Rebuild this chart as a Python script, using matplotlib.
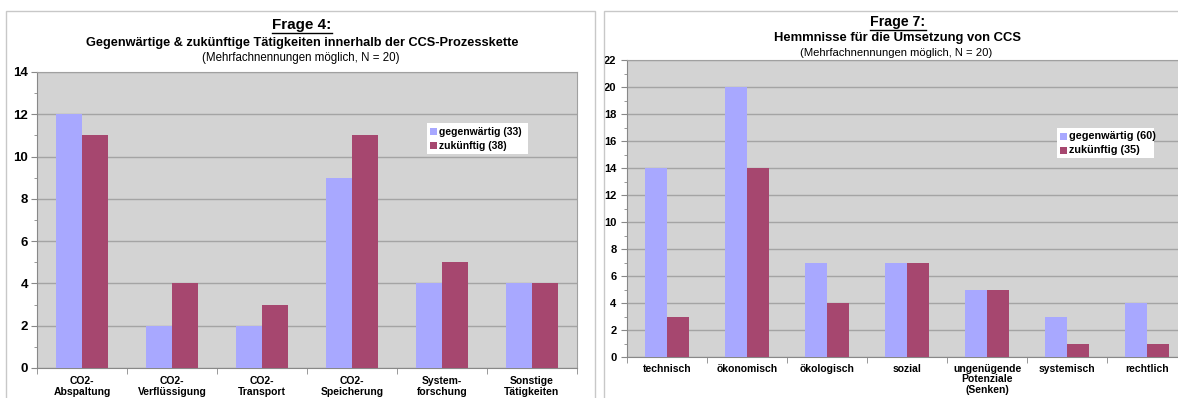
import matplotlib
matplotlib.use("Agg")
import matplotlib.pyplot as plt
from matplotlib.patches import Rectangle
from matplotlib.ticker import MultipleLocator
import numpy as np

plt.rcParams['font.family'] = ['Liberation Sans', 'DejaVu Sans']

# Frage 4 data
cats4 = ["CO2-\nAbspaltung", "CO2-\nVerflüssigung", "CO2-\nTransport",
         "CO2-\nSpeicherung", "System-\nforschung", "Sonstige\nTätigkeiten"]
now4 = [12, 2, 2, 9, 4, 4]
future4 = [11, 4, 3, 11, 5, 4]
legend4 = ["gegenwärtig (33)", "zukünftig (38)"]

# Frage 7 data
cats7 = ["technisch", "ökonomisch", "ökologisch", "sozial",
         "ungenügende\nPotenziale\n(Senken)", "systemisch", "rechtlich"]
now7 = [14, 20, 7, 7, 5, 3, 4]
future7 = [3, 14, 4, 7, 5, 1, 1]
legend7 = ["gegenwärtig (60)", "zukünftig (35)"]

C_NOW = "#a8a8ff"
C_FUT = "#a6476f"
BG = "#d3d3d3"
GRID = "#a4a4a4"

W, H = 1178, 398
fig = plt.figure(figsize=(W / 100, H / 100), dpi=100)
fig.patch.set_facecolor("white")


def px(x0, y0, x1, y1):
    return [x0 / W, 1 - y1 / H, (x1 - x0) / W, (y1 - y0) / H]


# panel frames
for (x0, y0, x1, y1) in [(6, 11, 595, 420), (604, 11, 1200, 420)]:
    fig.patches.append(Rectangle((x0 / W, 1 - y1 / H), (x1 - x0) / W, (y1 - y0) / H,
                                 transform=fig.transFigure, fill=False,
                                 edgecolor="#c8c8c8", lw=1.0, zorder=0))


def draw(rect, cats, a, b, ymax, leg_labels, leg_rect, bw, tick_fs, tick_pad,
         lab_fs, lab_pad, lab_ls, leg_fs):
    ax = fig.add_axes(px(*rect))
    ax.set_facecolor(BG)
    n = len(cats)
    x = np.arange(n)
    ax.bar(x - bw / 2, a, bw, color=C_NOW, zorder=3)
    ax.bar(x + bw / 2, b, bw, color=C_FUT, zorder=3)
    ax.set_xlim(-0.5, n - 0.5)
    ax.set_ylim(0, ymax)
    ax.yaxis.set_major_locator(MultipleLocator(2))
    ax.yaxis.set_minor_locator(MultipleLocator(1))
    ax.grid(axis="y", which="major", color=GRID, lw=1.0, zorder=1)
    ax.set_xticks(x)
    ax.set_xticklabels(cats, fontsize=lab_fs, fontweight="bold", linespacing=lab_ls)
    ax.set_xticks(np.arange(n + 1) - 0.5, minor=True)
    ax.tick_params(axis="x", which="major", length=0, pad=lab_pad)
    ax.tick_params(axis="x", which="minor", length=4, color="#888888")
    ax.tick_params(axis="y", which="major", length=4, color="#888888",
                   labelsize=tick_fs, pad=tick_pad)
    ax.tick_params(axis="y", which="minor", length=2, color="#888888")
    for t in ax.get_yticklabels():
        t.set_fontweight("bold")
    for s in ["left", "bottom"]:
        ax.spines[s].set_color("#888888")
    for s in ["top", "right"]:
        ax.spines[s].set_color("#a0a0a0")
    lx0, ly0, lx1, ly1 = leg_rect
    lax = fig.add_axes(px(lx0, ly0, lx1, ly1))
    lax.set_xlim(0, lx1 - lx0)
    lax.set_ylim(ly1 - ly0, 0)
    lax.axis("off")
    lax.add_patch(Rectangle((0, 0), lx1 - lx0, ly1 - ly0, facecolor="white",
                            edgecolor="none"))
    h = ly1 - ly0
    for i, (lab, col) in enumerate(zip(leg_labels, [C_NOW, C_FUT])):
        yc = h * (0.28 + i * 0.46)
        lax.add_patch(Rectangle((3, yc - 3.5), 7, 7, facecolor=col,
                                edgecolor="none"))
        lax.text(12, yc, lab, fontsize=leg_fs, fontweight="bold", va="center",
                 ha="left")
    return ax


draw((37, 72, 577, 368), cats4, now4, future4, 14, legend4, (427, 123, 528, 154),
     0.285, 9.5, 2.5, 7.5, 6, 1.12, 7.5)
draw((627, 60, 1187, 357), cats7, now7, future7, 22, legend7, (1057, 128, 1154, 158),
     0.28, 8, 3.5, 7.5, 5, 1.05, 7.8)


# titles
def titles(xc, xs, y1, y2, y3, t1, t2, t3, fs1, fs2, fs3):
    txt = fig.text(xc / W, 1 - y1 / H, t1, ha="center", va="center",
                   fontsize=fs1, fontweight="bold")
    fig.text(xc / W, 1 - y2 / H, t2, ha="center", va="center",
             fontsize=fs2, fontweight="bold")
    fig.text(xs / W, 1 - y3 / H, t3, ha="center", va="center", fontsize=fs3)
    return txt


t4 = titles(302, 301, 25, 43, 58, "Frage 4:",
            "Gegenwärtige & zukünftige Tätigkeiten innerhalb der CCS-Prozesskette",
            "(Mehrfachnennungen möglich, N = 20)", 11, 9.2, 8.3)
t7 = titles(898, 896, 22, 38, 53, "Frage 7:", "Hemmnisse für die Umsetzung von CCS",
            "(Mehrfachnennungen möglich, N = 20)", 10.2, 9.4, 8.1)

# underline the "Frage" headings
fig.canvas.draw()
r = fig.canvas.get_renderer()
for t in (t4, t7):
    bb = t.get_window_extent(r)
    y = bb.y0 - 0.5
    fig.add_artist(plt.Line2D([bb.x0 / W, bb.x1 / W], [y / H, y / H],
                              transform=fig.transFigure, color="black", lw=1.0))

fig.savefig("out.png", dpi=100)
